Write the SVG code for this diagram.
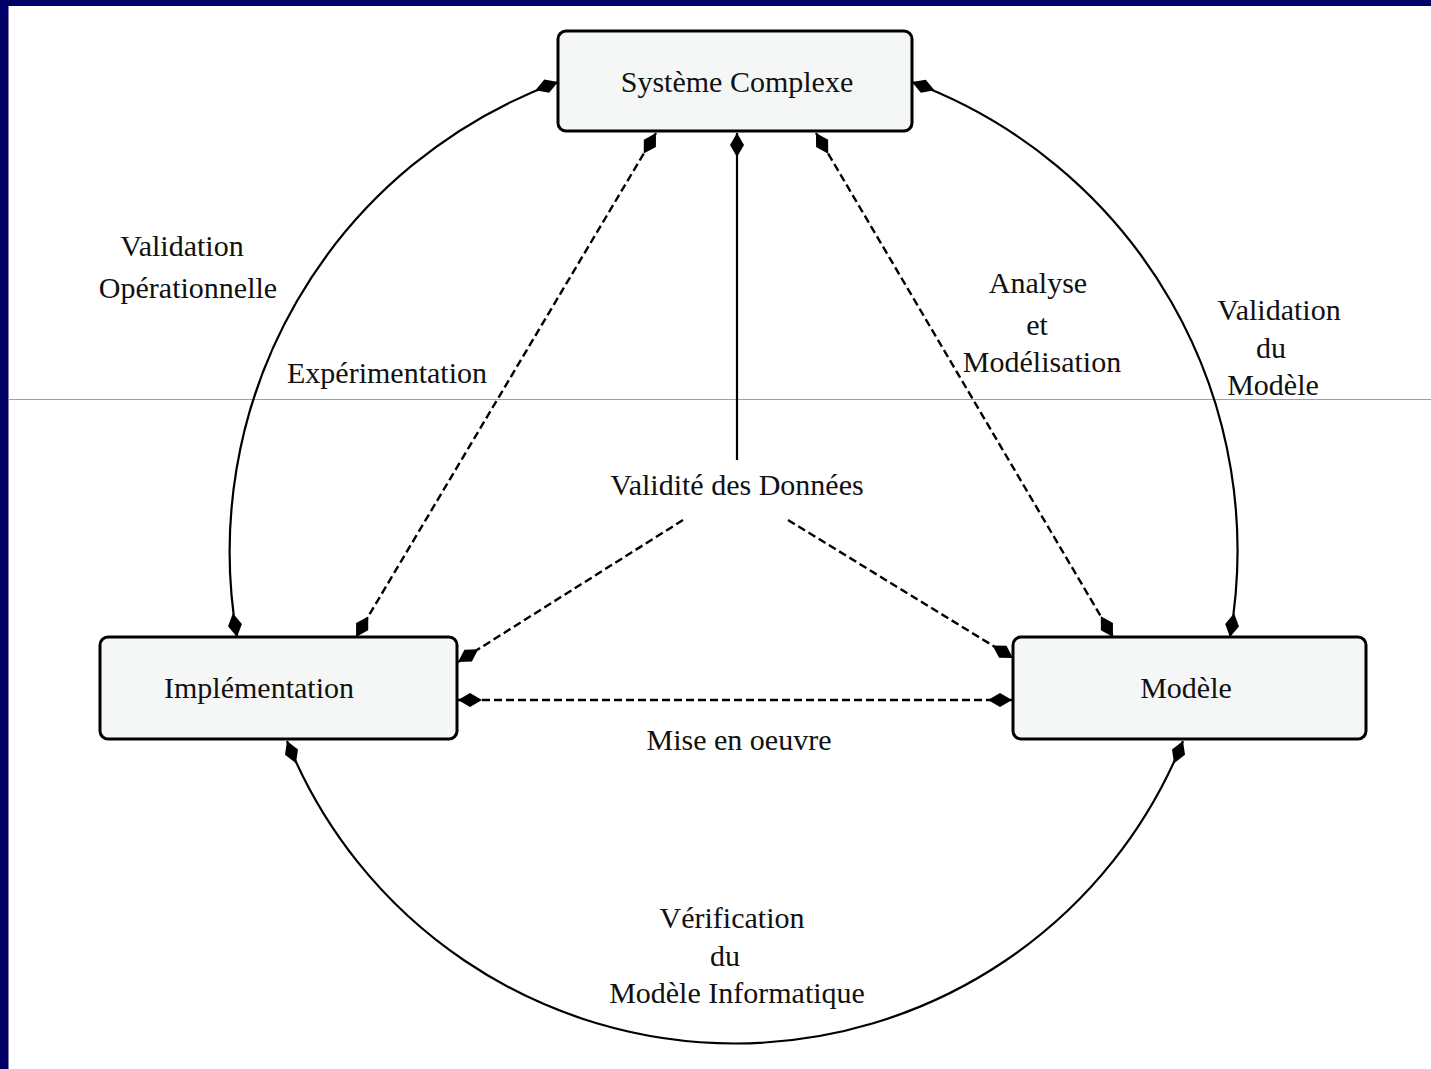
<svg xmlns="http://www.w3.org/2000/svg" width="1431" height="1069" viewBox="0 0 1431 1069">
<style>
.box{fill:#f5f7f7;stroke:#000;stroke-width:3}
.lbl{font-family:"Liberation Serif","Times New Roman",serif;font-size:30px;fill:#111;text-anchor:middle}
.solid{fill:none;stroke:#000;stroke-width:2.2}
.dash{fill:none;stroke:#000;stroke-width:2.4;stroke-dasharray:8 4}
.ah{marker-end:url(#arr)}
.ah2{marker-start:url(#arr);marker-end:url(#arr)}
</style>
<defs>
<marker id="arr" markerUnits="userSpaceOnUse" markerWidth="32" markerHeight="18" viewBox="-28 -9 30 18" refX="0" refY="0" orient="auto-start-reverse">
<path d="M0,0 L-12,-7 L-24,0 L-12,7 Z" fill="#000"/>
</marker>
</defs>
<rect x="0" y="0" width="1431" height="1069" fill="#fff"/>
<rect x="0" y="0" width="1431" height="6" fill="#000066"/>
<rect x="0" y="0" width="8.5" height="1069" fill="#000066"/>
<line x1="8.5" y1="399.5" x2="1431" y2="399.5" stroke="#9a9acc" stroke-width="1.2"/>

<g id="connectors">
<path class="solid ah2" d="M 558 82 A 500 500 0 0 0 237 637"/>
<path class="solid ah2" d="M 912 82 A 500 500 0 0 1 1230 637"/>
<path class="solid ah2" d="M 287 741 A 483 483 0 0 0 1183 741"/>
<path class="dash ah2" d="M 656 133 L 356 637"/>
<path class="dash ah2" d="M 816 133 L 1113 637"/>
<path class="solid ah" d="M 737 460 L 737 133"/>
<path class="dash ah" d="M 683 520 L 458 662"/>
<path class="dash ah" d="M 788 520 L 1013 658"/>
<path class="dash ah2" d="M 458 700 L 1012 700"/>
</g>

<g id="systeme-complexe">
<rect class="box" x="558" y="31" width="354" height="100" rx="8"/>
<text class="lbl" x="737" y="92">Système Complexe</text>
</g>
<g id="implementation">
<rect class="box" x="100" y="637" width="357" height="102" rx="8"/>
<text class="lbl" x="259" y="698">Implémentation</text>
</g>
<g id="modele">
<rect class="box" x="1013" y="637" width="353" height="102" rx="8"/>
<text class="lbl" x="1186" y="698">Modèle</text>
</g>

<g id="labels">
<text class="lbl" x="182" y="256">Validation</text>
<text class="lbl" x="188" y="298">Opérationnelle</text>
<text class="lbl" x="387" y="383">Expérimentation</text>
<text class="lbl" x="1038" y="293">Analyse</text>
<text class="lbl" x="1037" y="335">et</text>
<text class="lbl" x="1042" y="372">Modélisation</text>
<text class="lbl" x="1279" y="320">Validation</text>
<text class="lbl" x="1271" y="358">du</text>
<text class="lbl" x="1273" y="395">Modèle</text>
<text class="lbl" x="737" y="495">Validité des Données</text>
<text class="lbl" x="739" y="750">Mise en oeuvre</text>
<text class="lbl" x="732" y="928">Vérification</text>
<text class="lbl" x="725" y="966">du</text>
<text class="lbl" x="737" y="1003">Modèle Informatique</text>
</g>
</svg>
